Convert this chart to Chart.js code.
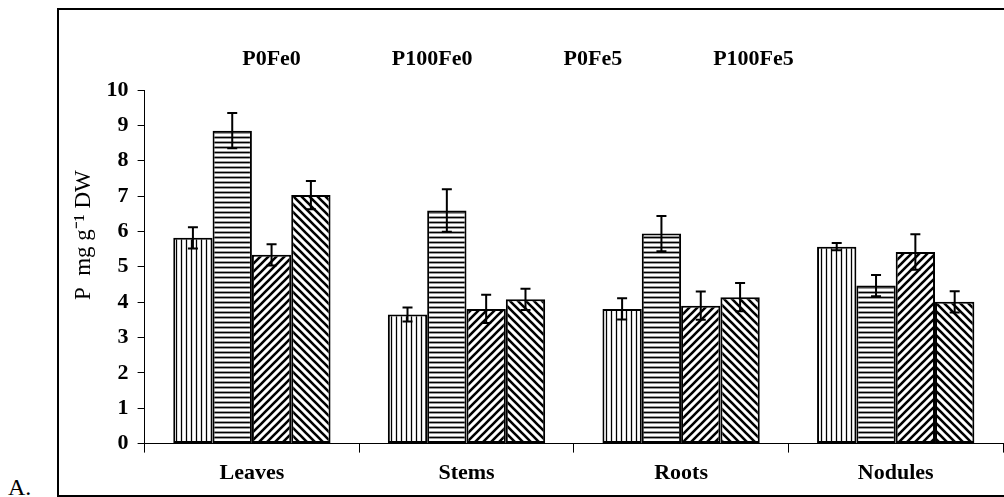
<!doctype html>
<html lang="en">
<head>
  <meta charset="utf-8">
  <title>P content by organ</title>
  <script src="https://cdn.jsdelivr.net/npm/chart.js"></script>
  <style>
    body {
      margin: 0;
      width: 1004px;
      height: 497px;
      overflow: hidden;
      background: #fff;
      font-family: "Liberation Serif", "Times New Roman", serif;
    }
    #frame {
      position: absolute;
      left: 57px;
      top: 8px;
      width: 1000px;
      height: 485px;
      border: 2px solid #000;
    }
    #chartBox {
      position: absolute;
      left: 0;
      top: 0;
      width: 946px;
      height: 485px;
    }
    #panel {
      position: absolute;
      left: 8px;
      top: 475px;
      font-size: 24px;
      line-height: 1;
      color: #000;
    }
  </style>
</head>
<body>
  <div id="panel">A.</div>
  <div id="frame">
    <div id="chartBox"><canvas id="pChart"></canvas></div>
  </div>
  <script>
    // values
    var categories = ['Leaves', 'Stems', 'Roots', 'Nodules'];
    var seriesNames = ['P0Fe0', 'P100Fe0', 'P0Fe5', 'P100Fe5'];
    var p0fe0 = [5.82, 3.65, 3.81, 5.57];
    var p100fe0 = [8.85, 6.59, 5.94, 4.47];
    var p0fe5 = [5.34, 3.81, 3.90, 5.42];
    var p100fe5 = [7.03, 4.08, 4.14, 4.01];
    var p0fe0Err = [0.3, 0.2, 0.3, 0.1];
    var p100fe0Err = [0.5, 0.6, 0.5, 0.3];
    var p0fe5Err = [0.3, 0.4, 0.4, 0.5];
    var p100fe5Err = [0.4, 0.3, 0.4, 0.3];
    var yMin = 0, yMax = 10, yStep = 1;

    var serif = '"Liberation Serif", "Times New Roman", serif';

    // hatch fills
    function hatch(kind) {
      var c = document.createElement('canvas');
      var s = kind == 'vert' || kind == 'horiz' ? 5 : 8;
      c.width = s; c.height = s;
      var g = c.getContext('2d');
      g.fillStyle = '#fff';
      g.fillRect(0, 0, s, s);
      g.strokeStyle = '#000';
      g.beginPath();
      if (kind == 'vert') {
        g.lineWidth = 1.3;
        g.moveTo(2.5, 0); g.lineTo(2.5, s);
      } else if (kind == 'horiz') {
        g.lineWidth = 1.8;
        g.moveTo(0, 2.5); g.lineTo(s, 2.5);
      } else if (kind == 'up') {
        g.lineWidth = 2.6;
        g.moveTo(-1, s + 1); g.lineTo(s + 1, -1);
        g.moveTo(-1, 1); g.lineTo(1, -1);
        g.moveTo(s - 1, s + 1); g.lineTo(s + 1, s - 1);
      } else {
        g.lineWidth = 2.6;
        g.moveTo(-1, -1); g.lineTo(s + 1, s + 1);
        g.moveTo(s - 1, -1); g.lineTo(s + 1, 1);
        g.moveTo(-1, s - 1); g.lineTo(1, s + 1);
      }
      g.stroke();
      return g.createPattern(c, 'repeat');
    }

    var fills = [hatch('vert'), hatch('horiz'), hatch('up'), hatch('down')];
    var values = [p0fe0, p100fe0, p0fe5, p100fe5];
    var errs = [p0fe0Err, p100fe0Err, p0fe5Err, p100fe5Err];

    var datasets = seriesNames.map(function (name, i) {
      return {
        label: name,
        data: values[i],
        errors: errs[i],
        backgroundColor: fills[i],
        borderColor: '#000',
        borderWidth: 2,
        borderSkipped: false,
        categoryPercentage: 0.733,
        barPercentage: 1.0
      };
    });

    var errorBars = {
      id: 'errorBars',
      afterDatasetsDraw: function (chart) {
        var ctx = chart.ctx;
        var y = chart.scales.y;
        ctx.save();
        ctx.strokeStyle = '#000';
        ctx.lineWidth = 2;
        chart.data.datasets.forEach(function (ds, i) {
          var meta = chart.getDatasetMeta(i);
          meta.data.forEach(function (bar, j) {
            var v = ds.data[j], e = ds.errors[j];
            var top = y.getPixelForValue(v + e);
            var bot = y.getPixelForValue(v - e);
            ctx.beginPath();
            ctx.moveTo(bar.x, top); ctx.lineTo(bar.x, bot);
            ctx.moveTo(bar.x - 5, top); ctx.lineTo(bar.x + 5, top);
            ctx.moveTo(bar.x - 5, bot); ctx.lineTo(bar.x + 5, bot);
            ctx.stroke();
          });
        });
        ctx.restore();
      }
    };

    // legend sits a bit left of centre in the original
    var legendShift = {
      id: 'legendShift',
      afterLayout: function (chart, args, opts) {
        if (!chart.legend) return;
        chart.legend.left += opts.dx;
        chart.legend.right += opts.dx;
      }
    };

    Chart.defaults.font.family = serif;
    Chart.defaults.color = '#000';

    new Chart(document.getElementById('pChart'), {
      type: 'bar',
      data: { labels: categories, datasets: datasets },
      plugins: [errorBars, legendShift],
      options: {
        responsive: true,
        maintainAspectRatio: false,
        animation: false,
        layout: { padding: { top: 8, left: 11, right: 2, bottom: 0 } },
        plugins: {
          tooltip: { enabled: false },
          legendShift: { dx: -54 },
          legend: {
            position: 'top',
            labels: {
              boxWidth: 60,
              boxHeight: 42,
              padding: 20,
              font: { size: 22, weight: 'bold' },
              generateLabels: function (chart) {
                return chart.data.datasets.map(function (ds, i) {
                  return {
                    text: ds.label,
                    fillStyle: 'rgba(0,0,0,0)',
                    strokeStyle: 'rgba(0,0,0,0)',
                    lineWidth: 0,
                    fontColor: '#000',
                    datasetIndex: i
                  };
                });
              }
            }
          }
        },
        scales: {
          x: {
            offset: true,
            grid: {
              offset: true,
              drawOnChartArea: false,
              drawTicks: true,
              tickLength: 9,
              color: '#000',
              lineWidth: 1
            },
            border: { display: true, color: '#000', width: 1 },
            ticks: { padding: 8, font: { size: 22, weight: 'bold' } }
          },
          y: {
            min: yMin,
            max: yMax,
            ticks: {
              stepSize: yStep,
              padding: 9,
              font: { size: 22, weight: 'bold' }
            },
            grid: {
              drawOnChartArea: false,
              drawTicks: true,
              tickLength: 7,
              color: '#000',
              lineWidth: 1
            },
            border: { display: true, color: '#000', width: 1 },
            title: {
              display: true,
              text: '\u00a0\u00a0\u00a0\u00a0\u00a0\u00a0\u00a0\u00a0\u00a0\u00a0\u00a0P\u00a0\u00a0mg g\u207b\u00b9 DW',
              font: { size: 23, weight: 'normal' },
              padding: { top: 0, bottom: 0 }
            }
          }
        }
      }
    });
  </script>
</body>
</html>
